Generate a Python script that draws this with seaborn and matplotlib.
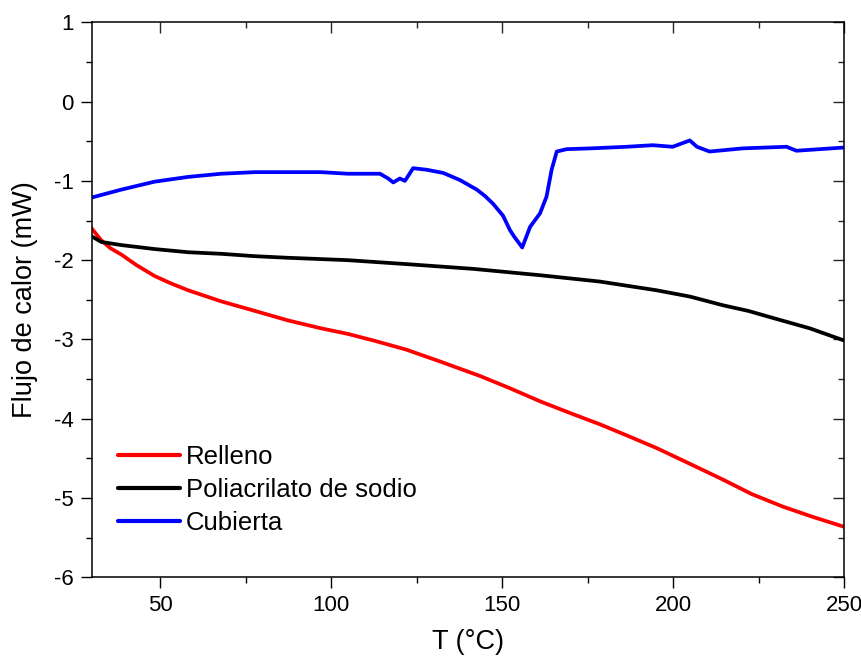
import matplotlib
matplotlib.use("Agg")
import matplotlib.pyplot as plt
from matplotlib.ticker import MultipleLocator
import pandas as pd
import seaborn as sns

# DSC curves: heat flow (mW) vs temperature (°C)
t_relleno = [30, 32.8, 35.5, 38.7, 43.0, 48.4, 53.0, 58.2, 67.9, 77.7, 87.4, 97.1, 104.9,
             113.0, 122.1, 132.0, 143.5, 152.0, 161.1, 170.0, 178.6, 187.0, 195.2, 205.0,
             214.7, 223.0, 232.2, 241.0, 249.8]
f_relleno = [-1.60, -1.75, -1.85, -1.93, -2.06, -2.20, -2.29, -2.38, -2.52, -2.64, -2.76,
             -2.86, -2.93, -3.02, -3.13, -3.28, -3.46, -3.61, -3.78, -3.93, -4.07, -4.22,
             -4.37, -4.57, -4.77, -4.95, -5.11, -5.24, -5.36]

t_poli = [30, 32.8, 38.7, 48.4, 58.2, 67.9, 77.7, 87.4, 104.9, 122.1, 141.6,
          161.1, 178.6, 195.2, 205.0, 214.7, 222.0, 229.3, 240.0, 249.8]
f_poli = [-1.70, -1.77, -1.81, -1.86, -1.90, -1.92, -1.95, -1.97, -2.00, -2.05, -2.11,
          -2.19, -2.27, -2.38, -2.46, -2.57, -2.64, -2.73, -2.86, -3.01]

t_cubierta = [30, 38.7, 48.4, 58.2, 67.9, 77.7, 89.4, 97.1, 104.9, 108.4, 114.3,
              116.7, 118.2, 120.1, 121.6, 124.0, 128.0, 132.8, 137.7, 142.6, 145.0, 147.4,
              150.3, 152.3, 153.5, 155.9, 158.2, 161.1, 163.0, 164.5, 166.0, 168.9,
              176.0, 186.4, 194.1, 199.9, 204.9, 207.0, 210.7, 220.4, 233.2, 236.1, 249.8]
f_cubierta = [-1.21, -1.11, -1.01, -0.95, -0.91, -0.89, -0.89, -0.89, -0.91, -0.91, -0.91,
              -0.97, -1.02, -0.97, -1.00, -0.84, -0.86, -0.90, -0.99, -1.11, -1.19, -1.29,
              -1.44, -1.62, -1.70, -1.84, -1.58, -1.41, -1.20, -0.86, -0.63, -0.60,
              -0.59, -0.57, -0.55, -0.57, -0.49, -0.57, -0.63, -0.59, -0.57, -0.62, -0.58]

labels = ["Relleno", "Poliacrilato de sodio", "Cubierta"]
colors = ["#ff0000", "#000000", "#0000ff"]

df = pd.concat([
    pd.DataFrame({"T": t_relleno, "flujo": f_relleno, "muestra": labels[0]}),
    pd.DataFrame({"T": t_poli, "flujo": f_poli, "muestra": labels[1]}),
    pd.DataFrame({"T": t_cubierta, "flujo": f_cubierta, "muestra": labels[2]}),
], ignore_index=True)

sns.set_style("white")
plt.rcParams["font.family"] = ["Liberation Sans", "DejaVu Sans"]
plt.rcParams["axes.unicode_minus"] = False
plt.rcParams["text.color"] = "black"
plt.rcParams["axes.labelcolor"] = "black"

fig = plt.figure(figsize=(8.61, 6.59), dpi=100)
ax = fig.add_axes([91.7 / 861, 1 - 577.3 / 659, (844 - 91.7) / 861, (577.3 - 22.3) / 659])

sns.lineplot(data=df, x="T", y="flujo", hue="muestra", hue_order=labels,
             palette=dict(zip(labels, colors)), estimator=None, sort=False,
             linewidth=2.7, ax=ax)

ax.set_xlim(30, 250)
ax.set_ylim(-6, 1)
ax.set_xticks([50, 100, 150, 200, 250])
ax.xaxis.set_minor_locator(MultipleLocator(25))
ax.yaxis.set_major_locator(MultipleLocator(1))
ax.yaxis.set_minor_locator(MultipleLocator(0.5))

for s in ax.spines.values():
    s.set_color("black")
    s.set_linewidth(1.1)

ax.tick_params(which="both", direction="out", bottom=True, left=True,
               top=False, right=False, width=1.0, colors="black",
               labelsize=16, pad=5)
ax.tick_params(which="major", length=8)
ax.tick_params(which="minor", length=4.5)

# mirrored inward ticks on the top and right spines
ax_top = ax.secondary_xaxis("top")
ax_top.set_xticks([50, 100, 150, 200, 250])
ax_top.xaxis.set_minor_locator(MultipleLocator(25))
ax_top.tick_params(which="both", direction="in", labeltop=False, width=1.0)
ax_top.tick_params(which="major", length=8)
ax_top.tick_params(which="minor", length=4.5)
ax_top.spines["top"].set_visible(False)
ax_right = ax.secondary_yaxis("right")
ax_right.yaxis.set_major_locator(MultipleLocator(1))
ax_right.yaxis.set_minor_locator(MultipleLocator(0.5))
ax_right.tick_params(which="both", direction="in", labelright=False, width=1.0)
ax_right.tick_params(which="major", length=8)
ax_right.tick_params(which="minor", length=4.5)
ax_right.spines["right"].set_visible(False)

ax.set_xlabel("T (°C)", fontsize=19.5, labelpad=9)
ax.set_ylabel("Flujo de calor (mW)", fontsize=19.5, labelpad=11)

leg = ax.legend(loc="center left", bbox_to_anchor=(0.035, 0.157), frameon=False,
                fontsize=18.5, handlelength=2.4, handletextpad=0.25,
                labelspacing=0.36, borderpad=0, borderaxespad=0)
for line in leg.get_lines():
    line.set_linewidth(3.0)

fig.savefig("out.png", dpi=100)
